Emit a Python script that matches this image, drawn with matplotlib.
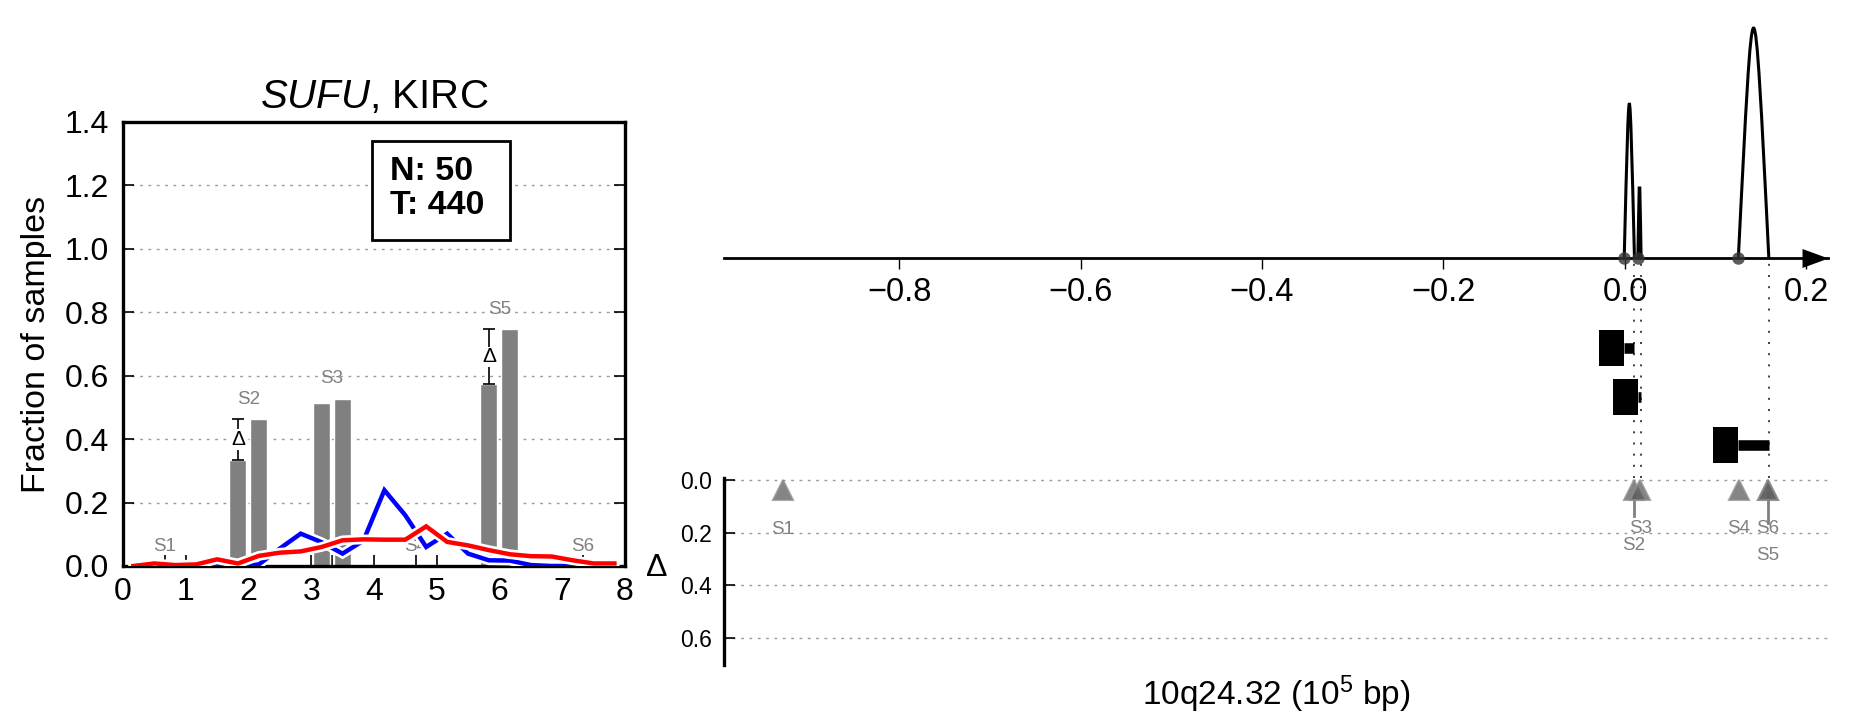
import matplotlib
matplotlib.use("Agg")
import matplotlib.pyplot as plt
import matplotlib.patheffects as pe
from matplotlib.path import Path

plt.rcParams['font.family'] = ['Liberation Sans', 'DejaVu Sans']
plt.rcParams['mathtext.fontset'] = 'custom'
plt.rcParams['mathtext.rm'] = 'Liberation Sans'
plt.rcParams['mathtext.it'] = 'Liberation Sans:italic'
plt.rcParams['mathtext.bf'] = 'Liberation Sans:bold'

"""
    Data
"""
# left panel: segments and fractions
segments = ["S1", "S2", "S3", "S4", "S5", "S6"]
seg_centers = [0.667, 2.0, 3.333, 4.667, 6.0, 7.333]
bar_first = [None, 0.334, 0.513, None, 0.574, None]
bar_second = [None, 0.463, 0.528, None, 0.746, None]
delta_marked = [False, True, False, False, True, False]

curve_x = [0.167, 0.5, 0.833, 1.167, 1.5, 1.833, 2.167, 2.5, 2.833, 3.167, 3.5, 3.833,
           4.167, 4.5, 4.833, 5.167, 5.5, 5.833, 6.167, 6.5, 6.833, 7.167, 7.5, 7.833]
blue_frac = [0.0, 0.0, 0.0, 0.0, 0.0, 0.0, 0.005, 0.055, 0.102, 0.075, 0.039, 0.08,
             0.239, 0.16, 0.06, 0.102, 0.039, 0.018, 0.017, 0.003, 0.0, 0.0, 0.0, 0.0]
red_frac = [0.0, 0.008, 0.003, 0.005, 0.021, 0.008, 0.032, 0.042, 0.046, 0.06, 0.081, 0.084,
            0.083, 0.083, 0.125, 0.076, 0.065, 0.05, 0.037, 0.031, 0.03, 0.018, 0.008, 0.008]
n_normal = 50
n_tumour = 440

# right panel: arcs, breakpoints, sites
arc_start = [-0.0008, 0.0143, 0.1250]
arc_end = [0.0105, 0.0178, 0.1586]
arc_height = [0.642, 0.304, 0.958]
site_pos = [-0.928, 0.0095, 0.0169, 0.1253, 0.1577, 0.1577]
top_ticks = [-0.8, -0.6, -0.4, -0.2, 0.0, 0.2]
delta_ticks = [0.0, 0.2, 0.4, 0.6]

grey = '#808080'
grid_style = dict(color='#9a9a9a', linestyle=(0, (2, 4)), linewidth=1.0)

fig = plt.figure(figsize=(18.71, 7.18), dpi=100)

"""
    Left panel
"""
ax = fig.add_axes([0.0657, 0.2117, 0.2683, 0.6184])
ax.set_xlim(0, 8)
ax.set_ylim(0, 1.4)
ax.set_axisbelow(True)
for y in [0.2, 0.4, 0.6, 0.8, 1.0, 1.2]:
    ax.axhline(y, zorder=0, **grid_style)

for i, c in enumerate(seg_centers):
    top = 0.0
    if bar_first[i] is not None:
        ax.bar([c - 0.167, c + 0.167], [bar_first[i], bar_second[i]], width=0.27,
               color=grey, edgecolor='white', linewidth=1.0, zorder=1)
        top = max(bar_first[i], bar_second[i])
    ax.text(c, top + 0.063, segments[i], color=grey, fontsize=13.5,
            ha='center', va='center', zorder=1.5)
    if delta_marked[i]:
        lo, hi = bar_first[i], bar_second[i]
        ax.errorbar(c - 0.167, (lo + hi) / 2, yerr=(hi - lo) / 2, fmt='none',
                    ecolor='k', elinewidth=1.2, capsize=4.6, capthick=1.2, zorder=4)
        ax.text(c - 0.167, (lo + hi) / 2, '\u0394', fontsize=15, ha='center', va='center',
                zorder=5, bbox=dict(facecolor='white', edgecolor='none', pad=0.5))

halo = [pe.Stroke(linewidth=7, foreground='white'), pe.Normal()]
ax.plot(curve_x, blue_frac, color='#0000ff', lw=3.2, zorder=3, path_effects=halo,
        solid_joinstyle='miter')
ax.plot(curve_x, red_frac, color='#ff0000', lw=3.2, zorder=3, path_effects=halo,
        solid_joinstyle='miter')

ax.add_patch(plt.Rectangle((0.497, 0.734), 0.274, 0.223, transform=ax.transAxes,
                           facecolor='white', edgecolor='k', lw=2, zorder=6))
ax.text(0.532, 0.850, f"N: {n_normal}\nT: {n_tumour}", transform=ax.transAxes,
        fontsize=24.5, fontweight='bold', ha='left', va='center', linespacing=1.1, zorder=7)

ax.set_xticks(range(9))
ax.set_xticks(seg_centers, minor=True)
ax.set_yticks([0.0, 0.2, 0.4, 0.6, 0.8, 1.0, 1.2, 1.4])
ax.set_yticklabels([f"{v:.1f}" for v in [0.0, 0.2, 0.4, 0.6, 0.8, 1.0, 1.2, 1.4]])
ax.tick_params(axis='x', which='both', direction='in', length=7.7, width=1.2,
               labelsize=23, pad=8, top=False)
ax.tick_params(axis='y', direction='in', length=7.7, width=1.2, labelsize=23,
               pad=10, right=True)
for s in ax.spines.values():
    s.set_linewidth(2.4)
ax.set_ylabel("Fraction of samples", fontsize=24.5, va='center')
ax.yaxis.set_label_coords(-0.173, 0.5)
ax.set_title(r"$\mathit{SUFU}$, KIRC", fontsize=29, pad=10)

"""
    Right panel: arcs and gene tracks
"""
xlim = (-0.993, 0.224)
at = fig.add_axes([0.3870, 0.3343, 0.5901, 0.6407])
at.set_xlim(*xlim)
at.set_ylim(-0.9167, 1.0)
at.patch.set_visible(False)
for side in ['top', 'right', 'left']:
    at.spines[side].set_visible(False)
at.spines['bottom'].set_position(('data', 0))
at.spines['bottom'].set_linewidth(2.0)
at.set_yticks([])
at.set_xticks(top_ticks)
at.set_xticklabels([f"{v:.1f}".replace('-', '\u2212') for v in top_ticks])
at.tick_params(axis='x', direction='out', length=8, width=1.0, labelsize=23.5, pad=6)

for a, b, h in zip(arc_start, arc_end, arc_height):
    m = (a + b) / 2
    arc = Path([(a, 0), (m, h / 0.75), (m, h / 0.75), (b, 0)],
               [Path.MOVETO, Path.CURVE4, Path.CURVE4, Path.CURVE4])
    at.add_patch(matplotlib.patches.PathPatch(arc, facecolor='none', edgecolor='k',
                                              lw=2.2, zorder=3))
at.plot(arc_start, [0] * len(arc_start), 'o', ms=9, color='#333333', alpha=0.8,
        mec='none', zorder=4)
at.vlines(arc_end, -0.9167, 0, colors='#222222', lw=1.2, linestyles=[(0, (1.2, 5.5))],
          zorder=2)

box_marker = Path([(-24, -18), (0, -18), (0, 18), (-24, 18), (-24, -18)],
                  [Path.MOVETO, Path.LINETO, Path.LINETO, Path.LINETO, Path.CLOSEPOLY])
for row, (a, b) in enumerate(zip(arc_start, arc_end)):
    y = -0.376 - 0.2015 * row
    at.plot([a, b], [y, y], color='k', lw=7.6, solid_capstyle='butt', zorder=3)
    at.plot([a], [y], marker=box_marker, ms=35.3, mew=0, color='k', zorder=3)

arrow_marker = Path([(-26, -9.5), (0, 0), (-26, 9.5), (-26, -9.5)],
                    [Path.MOVETO, Path.LINETO, Path.LINETO, Path.CLOSEPOLY])
at.plot([1.0], [0], marker=arrow_marker, ms=37.4, mew=0, color='k',
        transform=at.get_yaxis_transform(), clip_on=False, zorder=5)

"""
    Right panel: delta track
"""
ad = fig.add_axes([0.3870, 0.0738, 0.5901, 0.2604])
ad.set_xlim(*xlim)
ad.set_ylim(0.702, -0.0076)
ad.patch.set_visible(False)
for side in ['top', 'right', 'bottom']:
    ad.spines[side].set_visible(False)
ad.spines['left'].set_linewidth(2.4)
ad.set_yticks(delta_ticks)
ad.set_yticklabels([f"{v:.1f}" for v in delta_ticks])
ad.tick_params(axis='y', direction='in', length=7.7, width=1.2, labelsize=16.5, pad=9)
ad.tick_params(axis='x', bottom=False, labelbottom=False)
for y in delta_ticks:
    ad.axhline(y, zorder=0, **grid_style)

label_depth = [0.186, 0.247, 0.184, 0.184, 0.287, 0.184]
stem_end = [None, 0.137, None, None, 0.163, None]
for i, x in enumerate(site_pos):
    ad.plot([x], [0.038], '^', ms=14.4, color='#5c5c5c', alpha=0.75,
            mec='#8c8c8c', mew=1.5, zorder=3)
    if stem_end[i] is not None:
        ad.plot([x, x], [0.05, stem_end[i]], color=grey, lw=2, zorder=2)
    ad.text(x, label_depth[i], segments[i], color=grey, fontsize=13.5,
            ha='center', va='center')

ad.set_ylabel('\u0394', fontsize=23, rotation=0, va='center', ha='center')
ad.yaxis.set_label_coords(-0.061, 0.519)
ad.set_xlabel(r"10q24.32 (10$^5$ bp)", fontsize=24, labelpad=6)

fig.savefig("out.png", dpi=100)
